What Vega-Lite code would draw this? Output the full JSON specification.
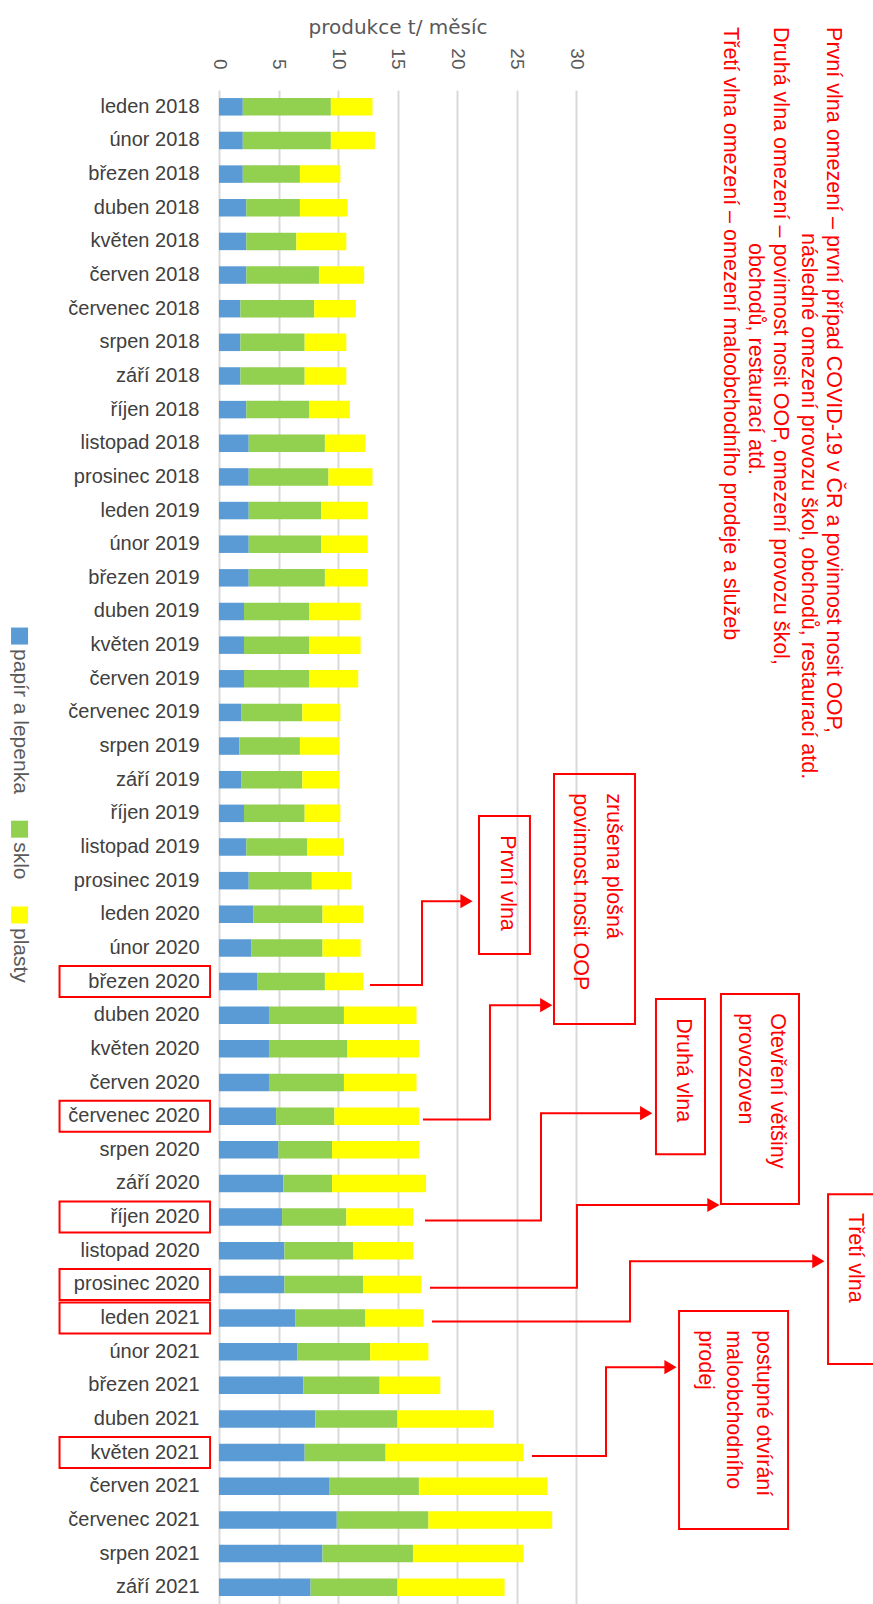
{
  "$schema": "https://vega.github.io/schema/vega-lite/v6.json",
  "width": 357,
  "height": 1514,
  "autosize": {"type": "none"},
  "padding": {"left": 219, "top": 90, "right": 297, "bottom": 0},
  "background": "white",
  "config": {"view": {"stroke": null}, "font": "Liberation Sans"},
  "datasets": {
    "odpad": [
      {"mesic": "leden 2018", "papír a lepenka": 2.0, "sklo": 7.4, "plasty": 3.5},
      {"mesic": "únor 2018", "papír a lepenka": 2.0, "sklo": 7.4, "plasty": 3.7},
      {"mesic": "březen 2018", "papír a lepenka": 2.0, "sklo": 4.8, "plasty": 3.4},
      {"mesic": "duben 2018", "papír a lepenka": 2.3, "sklo": 4.5, "plasty": 4.0},
      {"mesic": "květen 2018", "papír a lepenka": 2.3, "sklo": 4.2, "plasty": 4.2},
      {"mesic": "červen 2018", "papír a lepenka": 2.3, "sklo": 6.1, "plasty": 3.8},
      {"mesic": "červenec 2018", "papír a lepenka": 1.8, "sklo": 6.2, "plasty": 3.5},
      {"mesic": "srpen 2018", "papír a lepenka": 1.8, "sklo": 5.4, "plasty": 3.5},
      {"mesic": "září 2018", "papír a lepenka": 1.8, "sklo": 5.4, "plasty": 3.5},
      {"mesic": "říjen 2018", "papír a lepenka": 2.3, "sklo": 5.3, "plasty": 3.4},
      {"mesic": "listopad 2018", "papír a lepenka": 2.5, "sklo": 6.4, "plasty": 3.4},
      {"mesic": "prosinec 2018", "papír a lepenka": 2.5, "sklo": 6.7, "plasty": 3.7},
      {"mesic": "leden 2019", "papír a lepenka": 2.5, "sklo": 6.1, "plasty": 3.9},
      {"mesic": "únor 2019", "papír a lepenka": 2.5, "sklo": 6.1, "plasty": 3.9},
      {"mesic": "březen 2019", "papír a lepenka": 2.5, "sklo": 6.4, "plasty": 3.6},
      {"mesic": "duben 2019", "papír a lepenka": 2.1, "sklo": 5.5, "plasty": 4.3},
      {"mesic": "květen 2019", "papír a lepenka": 2.1, "sklo": 5.5, "plasty": 4.3},
      {"mesic": "červen 2019", "papír a lepenka": 2.1, "sklo": 5.5, "plasty": 4.1},
      {"mesic": "červenec 2019", "papír a lepenka": 1.9, "sklo": 5.1, "plasty": 3.2},
      {"mesic": "srpen 2019", "papír a lepenka": 1.7, "sklo": 5.1, "plasty": 3.3},
      {"mesic": "září 2019", "papír a lepenka": 1.9, "sklo": 5.1, "plasty": 3.1},
      {"mesic": "říjen 2019", "papír a lepenka": 2.1, "sklo": 5.1, "plasty": 3.0},
      {"mesic": "listopad 2019", "papír a lepenka": 2.3, "sklo": 5.1, "plasty": 3.1},
      {"mesic": "prosinec 2019", "papír a lepenka": 2.5, "sklo": 5.3, "plasty": 3.3},
      {"mesic": "leden 2020", "papír a lepenka": 2.9, "sklo": 5.8, "plasty": 3.4},
      {"mesic": "únor 2020", "papír a lepenka": 2.7, "sklo": 6.0, "plasty": 3.2},
      {"mesic": "březen 2020", "papír a lepenka": 3.2, "sklo": 5.7, "plasty": 3.2},
      {"mesic": "duben 2020", "papír a lepenka": 4.2, "sklo": 6.3, "plasty": 6.1},
      {"mesic": "květen 2020", "papír a lepenka": 4.2, "sklo": 6.6, "plasty": 6.0},
      {"mesic": "červen 2020", "papír a lepenka": 4.2, "sklo": 6.3, "plasty": 6.1},
      {"mesic": "červenec 2020", "papír a lepenka": 4.8, "sklo": 4.9, "plasty": 7.1},
      {"mesic": "srpen 2020", "papír a lepenka": 5.0, "sklo": 4.5, "plasty": 7.3},
      {"mesic": "září 2020", "papír a lepenka": 5.4, "sklo": 4.1, "plasty": 7.9},
      {"mesic": "říjen 2020", "papír a lepenka": 5.3, "sklo": 5.4, "plasty": 5.6},
      {"mesic": "listopad 2020", "papír a lepenka": 5.5, "sklo": 5.8, "plasty": 5.0},
      {"mesic": "prosinec 2020", "papír a lepenka": 5.5, "sklo": 6.6, "plasty": 4.9},
      {"mesic": "leden 2021", "papír a lepenka": 6.4, "sklo": 5.9, "plasty": 4.9},
      {"mesic": "únor 2021", "papír a lepenka": 6.6, "sklo": 6.1, "plasty": 4.9},
      {"mesic": "březen 2021", "papír a lepenka": 7.1, "sklo": 6.4, "plasty": 5.1},
      {"mesic": "duben 2021", "papír a lepenka": 8.1, "sklo": 6.9, "plasty": 8.1},
      {"mesic": "květen 2021", "papír a lepenka": 7.2, "sklo": 6.8, "plasty": 11.6},
      {"mesic": "červen 2021", "papír a lepenka": 9.3, "sklo": 7.5, "plasty": 10.8},
      {"mesic": "červenec 2021", "papír a lepenka": 9.9, "sklo": 7.7, "plasty": 10.4},
      {"mesic": "srpen 2021", "papír a lepenka": 8.7, "sklo": 7.6, "plasty": 9.3},
      {"mesic": "září 2021", "papír a lepenka": 7.7, "sklo": 7.3, "plasty": 9.0}
    ],
    "ramecky": [
      {"mesic": "březen 2020"},
      {"mesic": "červenec 2020"},
      {"mesic": "říjen 2020"},
      {"mesic": "prosinec 2020"},
      {"mesic": "leden 2021"},
      {"mesic": "květen 2021"}
    ],
    "cary": [
      {"sipka": 1, "bod": 1, "x": 12.69, "y": 26.1},
      {"sipka": 1, "bod": 2, "x": 17.06, "y": 26.1},
      {"sipka": 1, "bod": 3, "x": 17.06, "y": 23.61},
      {"sipka": 1, "bod": 4, "x": 21.0, "y": 23.61},
      {"sipka": 2, "bod": 1, "x": 17.14, "y": 30.1},
      {"sipka": 2, "bod": 2, "x": 22.77, "y": 30.1},
      {"sipka": 2, "bod": 3, "x": 22.77, "y": 26.7},
      {"sipka": 2, "bod": 4, "x": 27.7, "y": 26.7},
      {"sipka": 3, "bod": 1, "x": 17.31, "y": 33.1},
      {"sipka": 3, "bod": 2, "x": 27.06, "y": 33.1},
      {"sipka": 3, "bod": 3, "x": 27.06, "y": 29.91},
      {"sipka": 3, "bod": 4, "x": 36.1, "y": 29.91},
      {"sipka": 4, "bod": 1, "x": 17.73, "y": 35.1},
      {"sipka": 4, "bod": 2, "x": 30.08, "y": 35.1},
      {"sipka": 4, "bod": 3, "x": 30.08, "y": 32.64},
      {"sipka": 4, "bod": 4, "x": 41.7, "y": 32.64},
      {"sipka": 5, "bod": 1, "x": 17.9, "y": 36.1},
      {"sipka": 5, "bod": 2, "x": 34.54, "y": 36.1},
      {"sipka": 5, "bod": 3, "x": 34.54, "y": 34.31},
      {"sipka": 5, "bod": 4, "x": 50.5, "y": 34.31},
      {"sipka": 6, "bod": 1, "x": 26.3, "y": 40.1},
      {"sipka": 6, "bod": 2, "x": 32.52, "y": 40.1},
      {"sipka": 6, "bod": 3, "x": 32.52, "y": 37.46},
      {"sipka": 6, "bod": 4, "x": 38.1, "y": 37.46}
    ],
    "hroty": [
      {"x": 20.8, "y": 23.61},
      {"x": 27.5, "y": 26.7},
      {"x": 35.9, "y": 29.91},
      {"x": 41.55, "y": 32.64},
      {"x": 50.37, "y": 34.31},
      {"x": 37.94, "y": 37.46}
    ],
    "boxy": [
      {"x": 21.85, "x2": 26.13, "y": 21.08, "y2": 25.18},
      {"x": 28.15, "x2": 34.96, "y": 19.83, "y2": 27.26},
      {"x": 36.72, "x2": 40.84, "y": 26.52, "y2": 31.13},
      {"x": 42.18, "x2": 48.74, "y": 26.37, "y2": 32.61},
      {"x": 51.18, "x2": 58.5, "y": 32.32, "y2": 37.37},
      {"x": 38.66, "x2": 47.82, "y": 35.79, "y2": 42.27}
    ],
    "texty": [
      {"popis": "První vlna omezení – první případ COVID-19 v ČR a povinnost nosit OOP,", "x": 51.6, "y": -2.37},
      {"popis": "následné omezení provozu škol, obchodů, restaurací atd.", "x": 49.5, "y": 3.75},
      {"popis": "Druhá vlna omezení – povinnost nosit OOP, omezení provozu škol,", "x": 47.14, "y": -2.37},
      {"popis": "obchodů, restaurací atd.", "x": 45.04, "y": 4.05},
      {"popis": "Třetí vlna omezení – omezení maloobchodního prodeje a služeb", "x": 42.94, "y": -2.37},
      {"popis": "První vlna", "x": 24.2, "y": 21.65},
      {"popis": "zrušena plošná", "x": 33.11, "y": 20.4},
      {"popis": "povinnost nosit OOP", "x": 30.34, "y": 20.4},
      {"popis": "Druhá vlna", "x": 38.99, "y": 27.09},
      {"popis": "Otevření většiny", "x": 46.89, "y": 26.94},
      {"popis": "provozoven", "x": 44.2, "y": 26.94},
      {"popis": "Třetí vlna", "x": 53.45, "y": 32.88},
      {"popis": "postupné otvírání", "x": 45.71, "y": 36.36},
      {"popis": "maloobchodního", "x": 43.19, "y": 36.36},
      {"popis": "prodej", "x": 40.84, "y": 36.36}
    ],
    "legenda": [
      {"serie": "papír a lepenka", "x": -16.76, "y": 15.73},
      {"serie": "sklo", "x": -16.76, "y": 21.47},
      {"serie": "plasty", "x": -16.76, "y": 24.02}
    ]
  },
  "layer": [
    {
      "layer": [
        {
          "data": {"name": "odpad"},
          "transform": [
            {"fold": ["papír a lepenka", "sklo", "plasty"], "as": ["serie", "t"]},
            {"window": [{"op": "row_number", "as": "poradi"}], "groupby": ["mesic"]}
          ],
          "mark": {"type": "bar"},
          "encoding": {
            "y": {
              "field": "mesic", "type": "nominal", "sort": null,
              "scale": {"paddingInner": 0.48, "paddingOuter": 0.24},
              "axis": {"title": null, "ticks": false, "domain": false, "grid": false, "labelFontSize": 20, "labelColor": "#404040", "labelPadding": 20, "labelLimit": 250}
            },
            "x": {
              "field": "t", "type": "quantitative", "stack": "zero",
              "scale": {"domain": [0, 30], "nice": false},
              "axis": {
                "orient": "top", "values": [0, 5, 10, 15, 20, 25, 30], "title": "produkce t/ měsíc",
                "titleFont": "DejaVu Sans", "titleFontSize": 20, "titleFontWeight": "normal", "titleColor": "#595959", "titlePadding": 10,
                "grid": true, "gridColor": "#d9d9d9", "gridWidth": 2, "ticks": false, "domain": false,
                "labelAngle": 90, "labelFontSize": 19, "labelColor": "#595959", "labelPadding": 21
              }
            },
            "color": {
              "field": "serie", "type": "nominal",
              "scale": {"domain": ["papír a lepenka", "sklo", "plasty"], "range": ["#5B9BD5", "#92D050", "#FFFF00"]},
              "legend": null
            },
            "order": {"field": "poradi", "type": "quantitative"}
          }
        },
        {
          "data": {"name": "ramecky"},
          "mark": {"type": "bar", "filled": false, "stroke": "#FF0000", "strokeWidth": 2, "height": 31},
          "encoding": {
            "y": {"field": "mesic", "type": "nominal", "sort": null},
            "x": {"datum": -13.4},
            "x2": {"datum": -0.75}
          }
        }
      ]
    },
    {
      "encoding": {
        "y": {"field": "y", "type": "quantitative", "scale": {"domain": [-0.5, 44.5], "reverse": true, "nice": false, "zero": false}, "axis": null},
        "x": {"field": "x", "type": "quantitative", "scale": {"domain": [0, 30], "nice": false}, "axis": null}
      },
      "layer": [
        {
          "data": {"name": "cary"},
          "mark": {"type": "line", "color": "#FF0000", "strokeWidth": 2, "interpolate": "linear"},
          "encoding": {"detail": {"field": "sipka", "type": "nominal"}, "order": {"field": "bod", "type": "quantitative"}}
        },
        {
          "data": {"name": "hroty"},
          "mark": {"type": "point", "shape": "triangle-right", "filled": true, "color": "#FF0000", "size": 200, "opacity": 1, "strokeWidth": 0},
          "encoding": {}
        },
        {
          "data": {"name": "boxy"},
          "mark": {"type": "rect", "filled": false, "stroke": "#FF0000", "strokeWidth": 2},
          "encoding": {"x2": {"field": "x2"}, "y2": {"field": "y2"}}
        },
        {
          "data": {"name": "texty"},
          "mark": {"type": "text", "angle": 90, "align": "left", "baseline": "middle", "color": "#FF0000", "fontSize": 21.5},
          "encoding": {"text": {"field": "popis"}}
        },
        {
          "data": {"name": "legenda"},
          "mark": {"type": "point", "shape": "square", "filled": true, "size": 289, "opacity": 1, "strokeWidth": 0},
          "encoding": {"color": {"field": "serie", "type": "nominal", "legend": null}}
        },
        {
          "data": {"name": "legenda"},
          "mark": {"type": "text", "angle": 90, "align": "left", "baseline": "middle", "dx": 13, "color": "#595959", "fontSize": 21},
          "encoding": {"text": {"field": "serie"}}
        }
      ]
    }
  ],
  "resolve": {"scale": {"y": "independent"}, "axis": {"x": "independent"}}
}
